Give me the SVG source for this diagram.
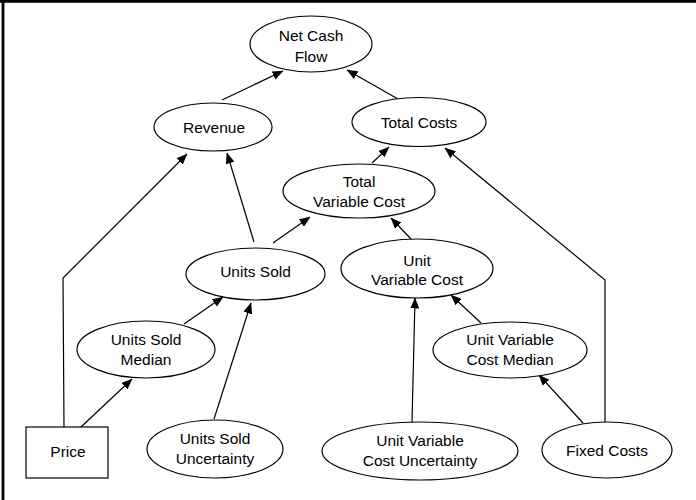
<svg xmlns="http://www.w3.org/2000/svg" width="696" height="500" viewBox="0 0 696 500">
  <style>
    .node ellipse, .node rect { fill: #ffffff; stroke: #000000; stroke-width: 1.2; }
    .node text { font-family: "Liberation Sans", Arial, sans-serif; font-size: 15.5px; fill: #000000; text-anchor: middle; }
    .edge { fill: none; stroke: #000000; stroke-width: 1.2; marker-end: url(#arrow); }
    .frame { stroke: #000000; stroke-width: 2.8; fill: none; }
  </style>
  <defs>
    <marker id="arrow" markerUnits="userSpaceOnUse" markerWidth="11" markerHeight="9" refX="10.5" refY="4.5" orient="auto">
      <path d="M0,0 L11,4.5 L0,9 z" fill="#000000"/>
    </marker>
  </defs>

  <rect width="696" height="500" fill="#ffffff"/>
  <!-- frame: top and left edges -->
  <line class="frame" x1="0" y1="1.4" x2="696" y2="1.4"/>
  <line class="frame" x1="3" y1="0" x2="3" y2="500"/>

  <g id="connectors">
    <line class="edge" x1="222" y1="100" x2="283" y2="71"/>
    <line class="edge" x1="398" y1="99" x2="347" y2="70"/>
    <line class="edge" x1="372" y1="163" x2="389" y2="147"/>
    <line class="edge" x1="254" y1="242" x2="227" y2="153"/>
    <polyline class="edge" points="64,427 63,278 187,154"/>
    <line class="edge" x1="273" y1="243" x2="310" y2="217"/>
    <line class="edge" x1="411" y1="239" x2="391" y2="218"/>
    <polyline class="edge" points="605,422 605,280 445,148"/>
    <line class="edge" x1="184" y1="324" x2="223" y2="297"/>
    <line class="edge" x1="81" y1="427" x2="132" y2="379"/>
    <line class="edge" x1="214" y1="419" x2="251" y2="303"/>
    <line class="edge" x1="481" y1="323" x2="451" y2="295"/>
    <line class="edge" x1="412" y1="422" x2="415" y2="298"/>
    <line class="edge" x1="583" y1="423" x2="539" y2="375"/>
  </g>

  <g id="net-cash-flow" class="node">
    <ellipse cx="311" cy="44" rx="61" ry="28"/>
    <text x="311" y="40.5">Net Cash</text>
    <text x="311" y="61.5">Flow</text>
  </g>
  <g id="revenue" class="node">
    <ellipse cx="213" cy="127" rx="59" ry="24"/>
    <text x="214" y="132.5">Revenue</text>
  </g>
  <g id="total-costs" class="node">
    <ellipse cx="419" cy="122" rx="67" ry="24.5"/>
    <text x="419" y="127.5">Total Costs</text>
  </g>
  <g id="total-variable-cost" class="node">
    <ellipse cx="359" cy="191" rx="76" ry="27"/>
    <text x="359" y="187">Total</text>
    <text x="359" y="207">Variable Cost</text>
  </g>
  <g id="units-sold" class="node">
    <ellipse cx="255.5" cy="274" rx="69.5" ry="26"/>
    <text x="255.5" y="277">Units Sold</text>
  </g>
  <g id="unit-variable-cost" class="node">
    <ellipse cx="417" cy="268.5" rx="76" ry="29.5"/>
    <text x="417" y="266">Unit</text>
    <text x="417" y="285">Variable Cost</text>
  </g>
  <g id="units-sold-median" class="node">
    <ellipse cx="146" cy="349.5" rx="69" ry="28.5"/>
    <text x="146" y="344.5">Units Sold</text>
    <text x="146" y="364.5">Median</text>
  </g>
  <g id="unit-variable-cost-median" class="node">
    <ellipse cx="510" cy="350" rx="77" ry="28"/>
    <text x="510" y="345">Unit Variable</text>
    <text x="510" y="365">Cost Median</text>
  </g>
  <g id="price" class="node">
    <rect x="26" y="427" width="82" height="51"/>
    <text x="68" y="457">Price</text>
  </g>
  <g id="units-sold-uncertainty" class="node">
    <ellipse cx="215" cy="449" rx="68" ry="29"/>
    <text x="215" y="444">Units Sold</text>
    <text x="215" y="464">Uncertainty</text>
  </g>
  <g id="unit-variable-cost-uncertainty" class="node">
    <ellipse cx="420" cy="451" rx="98" ry="29"/>
    <text x="420" y="446">Unit Variable</text>
    <text x="420" y="466">Cost Uncertainty</text>
  </g>
  <g id="fixed-costs" class="node">
    <ellipse cx="607" cy="450" rx="65" ry="28"/>
    <text x="607" y="455.5">Fixed Costs</text>
  </g>
</svg>
